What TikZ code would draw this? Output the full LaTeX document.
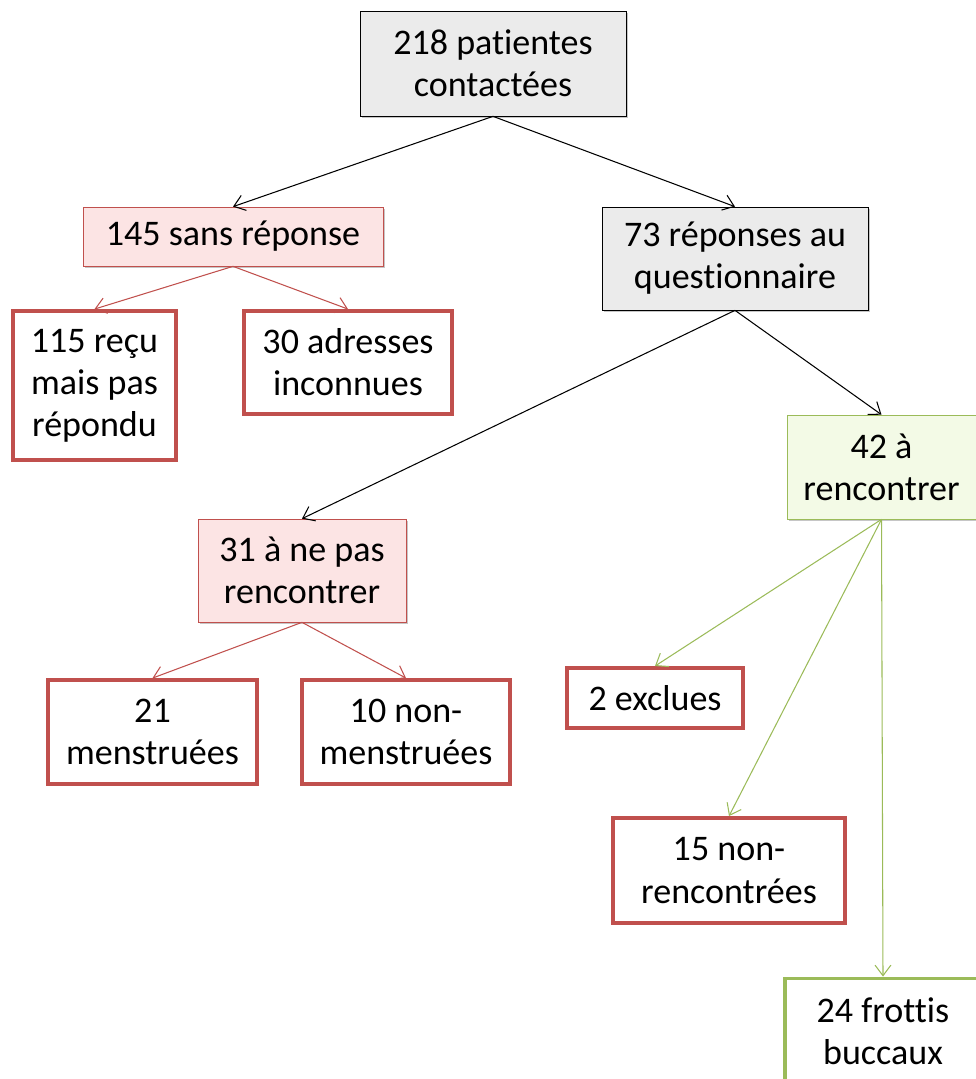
\documentclass[tikz,border=0pt]{standalone}
\usepackage{fontspec}
\setmainfont{Carlito}[Ligatures={NoCommon}]
\usepackage{tikz}
\usetikzlibrary{arrows.meta,shadows}
\definecolor{redline}{HTML}{C0504D}
\definecolor{greenline}{HTML}{9BBB59}
\definecolor{pinkfill}{HTML}{FCE4E4}
\definecolor{greyfill}{HTML}{EBEBEB}
\definecolor{greenfill}{HTML}{F3FAE6}

\begin{document}
\begin{tikzpicture}[x=0.02cm,y=-0.02cm,
    every node/.style={font=\fontsize{20.5}{24}\selectfont,align=center,inner sep=2pt},
    shadebox/.style={draw,thin,drop shadow={opacity=0.45,shadow xshift=1pt,shadow yshift=-1pt}},
    greybox/.style={shadebox,draw=black,fill=greyfill},
    pinkbox/.style={shadebox,draw=redline,fill=pinkfill},
    greenbox/.style={shadebox,draw=greenline,fill=greenfill},
    redbox/.style={draw=redline,line width=2.2pt,fill=white},
    greenframe/.style={draw=greenline,line width=2.2pt,fill=white},
    arr/.style={-{Straight Barb[length=6pt,width=9pt]},line width=0.6pt}]
      \useasboundingbox (0,0) rectangle (976,1079);
      % first level
      \node[greybox,minimum width=5.32cm,minimum height=2.1cm] (total) at (493,63.5) {218 patientes\\contactées};
      \node[pinkbox,minimum width=6cm,minimum height=1.18cm] (sans) at (233,236.5) {145 sans réponse};
      \node[greybox,minimum width=5.32cm,minimum height=2.06cm] (rep) at (735,258.5) {73 réponses au\\questionnaire};
      % no answer
      \node[redbox,minimum width=3.26cm,minimum height=2.98cm] (recu) at (94.5,385.5) {115 reçu\\mais pas\\répondu};
      \node[redbox,minimum width=4.16cm,minimum height=2.06cm] (adr) at (348,362.5) {30 adresses\\inconnues};
      % answers
      \node[greenbox,minimum width=3.78cm,minimum height=2.08cm] (renc) at (881.5,467) {42 à\\rencontrer};
      \node[pinkbox,minimum width=4.16cm,minimum height=2.06cm] (nepas) at (302,570.5) {31 à ne pas\\rencontrer};
      \node[redbox,minimum width=4.18cm,minimum height=2.08cm] (menst) at (152.5,732) {21\\menstruées};
      \node[redbox,minimum width=4.16cm,minimum height=2.08cm] (nonmenst) at (406,732) {10 non-\\menstruées};
      \node[redbox,minimum width=3.52cm,minimum height=1.2cm] (excl) at (655,698) {2 exclues};
      \node[redbox,minimum width=4.64cm,minimum height=2.1cm] (nonrenc) at (729,870.5) {15 non-\\rencontrées};
      \node[greenframe,minimum width=3.92cm,minimum height=2.1cm] (frottis) at (883,1031) {24 frottis\\buccaux};
      % connectors
      \draw[arr] (total.south) -- (sans.north);
      \draw[arr] (total.south) -- (rep.north);
      \draw[arr,redline] (sans.south) -- (recu.north);
      \draw[arr,redline] (sans.south) -- (adr.north);
      \draw[arr] (rep.south) -- (renc.north);
      \draw[arr] (rep.south) -- (nepas.north);
      \draw[arr,redline] (nepas.south) -- (menst.north);
      \draw[arr,redline] (nepas.south) -- (nonmenst.north);
      \draw[arr,greenline] (renc.south) -- (excl.north);
      \draw[arr,greenline] (renc.south) -- (nonrenc.north);
      \draw[arr,greenline] (renc.south) -- (frottis.north);
\end{tikzpicture}
\end{document}
